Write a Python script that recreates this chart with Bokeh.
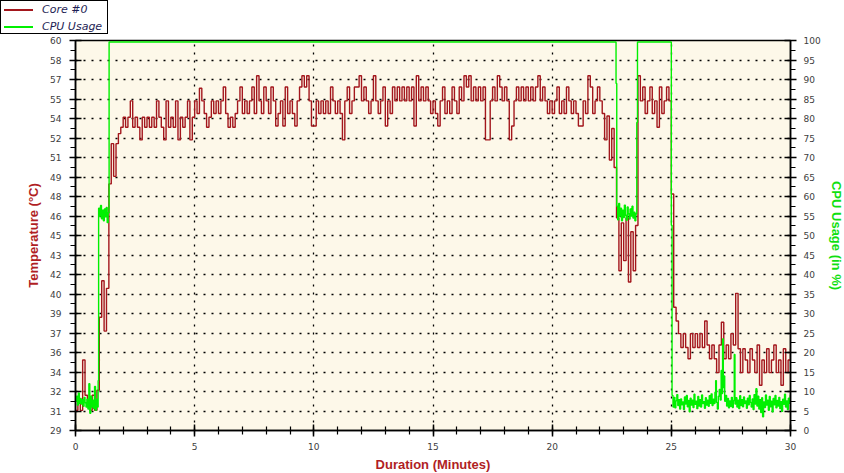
from bokeh.plotting import figure
from bokeh.layouts import column
from bokeh.models import (Range1d, LinearAxis, FixedTicker, CustomJSTickFormatter, Grid, Div)
from bokeh.embed import file_html
from bokeh.resources import INLINE

# ---------------- data ----------------
SAMPLE_STEP_MIN = 0.1  # temperature samples every 0.1 minute, 0.0 .. 30.0

temp_c = [
    30.6, 31.3, 30.6, 34.6, 31.8, 31.2, 30.6, 31.8, 30.6, 32.2,   # 0
    38.0, 40.9, 36.9, 40.3, 48.6, 51.8, 49.2, 51.8, 52.6, 53.1,   # 1
    53.9, 53.1, 53.9, 55.2, 53.1, 53.9, 53.1, 52.1, 53.9, 53.1,   # 2
    53.9, 53.1, 53.9, 53.1, 55.2, 53.9, 53.1, 52.1, 55.2, 53.1,   # 3
    53.9, 53.1, 55.2, 52.1, 53.9, 53.1, 53.9, 55.2, 52.1, 53.9,   # 4
    55.2, 54.2, 56.2, 55.2, 54.2, 53.1, 53.9, 55.2, 54.2, 55.2,   # 5
    54.2, 55.2, 56.3, 54.2, 53.1, 53.9, 53.1, 54.2, 55.2, 56.3,   # 6
    54.2, 55.2, 54.2, 55.2, 56.3, 54.2, 57.2, 55.2, 54.2, 56.3,   # 7
    55.2, 54.2, 56.3, 55.2, 53.2, 54.2, 55.2, 53.2, 56.3, 54.2,   # 8
    55.2, 54.2, 53.2, 55.2, 56.3, 57.2, 56.3, 57.2, 55.2, 53.2,   # 9
    53.2, 55.2, 54.2, 55.2, 54.2, 55.2, 54.2, 56.3, 55.2, 54.2,   # 10
    55.2, 54.2, 52.1, 55.2, 56.3, 54.2, 55.2, 56.3, 56.3, 57.2,   # 11
    55.2, 56.3, 55.2, 54.2, 55.2, 57.2, 55.2, 54.2, 55.2, 56.3,   # 12
    53.2, 55.2, 54.2, 56.3, 55.2, 56.3, 55.2, 56.3, 55.2, 56.3,   # 13
    55.2, 56.3, 53.2, 57.2, 55.2, 56.3, 55.2, 56.3, 55.2, 54.2,   # 14
    55.2, 54.2, 53.2, 55.2, 56.3, 54.2, 55.2, 54.2, 56.3, 55.2,   # 15
    54.2, 56.3, 55.2, 57.2, 56.3, 57.2, 55.2, 56.3, 55.2, 56.3,   # 16
    55.2, 56.3, 52.1, 52.1, 55.2, 56.3, 55.2, 57.2, 56.3, 55.2,   # 17
    56.3, 55.2, 52.1, 53.2, 55.2, 56.3, 55.2, 56.3, 55.2, 56.3,   # 18
    55.2, 56.3, 55.2, 56.3, 57.2, 55.2, 56.3, 55.2, 54.2, 55.2,   # 19
    54.2, 55.2, 56.3, 54.2, 55.2, 54.2, 56.3, 55.2, 54.2, 55.2,   # 20
    54.2, 53.2, 53.2, 55.2, 54.2, 57.2, 56.3, 54.2, 55.2, 56.3,   # 21
    55.2, 54.2, 52.1, 54.0, 50.5, 53.0, 49.9, 45.9, 41.7, 45.5,   # 22
    42.5, 45.9, 40.8, 44.8, 41.7, 45.3, 57.2, 55.2, 56.3, 54.2,   # 23
    55.2, 56.3, 54.2, 55.2, 53.1, 56.3, 54.2, 55.2, 56.3, 55.2,   # 24
    47.8, 38.8, 37.7, 36.7, 35.6, 36.7, 35.6, 34.7, 36.7, 35.6,   # 25
    36.7, 35.6, 36.7, 35.6, 37.7, 35.8, 34.7, 35.8, 34.7, 33.6,   # 26
    35.8, 37.6, 34.7, 35.8, 34.7, 36.7, 35.8, 39.9, 35.5, 33.6,   # 27
    35.5, 34.6, 33.6, 35.5, 34.6, 33.6, 35.8, 32.6, 34.6, 33.6,   # 28
    35.5, 33.6, 34.6, 35.8, 33.6, 34.6, 32.6, 35.5, 33.6, 34.6,   # 29
    35.5,
]
temp_minutes = [round(i * SAMPLE_STEP_MIN, 1) for i in range(len(temp_c))]

cpu_minutes = [
    0.00, 0.04, 0.08, 0.12, 0.16, 0.20, 0.24, 0.28, 0.32, 0.36, 0.40, 0.44,
    0.48, 0.52, 0.56, 0.60, 0.64, 0.68, 0.72, 0.76, 0.80, 0.84, 0.88, 0.92,
    0.95, 0.97, 1.01, 1.05, 1.09, 1.13, 1.17, 1.21, 1.25, 1.29, 1.33, 1.37,
    1.41, 22.68, 22.71, 22.75, 22.79, 22.83, 22.87, 22.91, 22.95, 22.99, 23.03,
    23.07, 23.11, 23.15, 23.19, 23.23, 23.27, 23.31, 23.35, 23.39, 23.43, 23.47,
    23.51, 23.55, 23.58, 25.00, 25.03,
    25.07, 25.11, 25.15, 25.19, 25.23, 25.27, 25.31, 25.35, 25.39, 25.43, 25.47,
    25.51, 25.55, 25.59, 25.63, 25.67, 25.71, 25.75, 25.79, 25.83, 25.87, 25.91,
    25.95, 25.99, 26.03, 26.07, 26.11, 26.15, 26.19, 26.23, 26.27, 26.31, 26.35,
    26.39, 26.43, 26.47, 26.51, 26.55, 26.59, 26.63, 26.67, 26.71, 26.75, 26.79,
    26.83, 26.86, 26.89, 26.93, 26.97, 27.01, 27.05, 27.09, 27.12, 27.15, 27.18,
    27.21, 27.24, 27.28, 27.32, 27.36, 27.40, 27.44, 27.48, 27.52, 27.56, 27.60,
    27.64, 27.67, 27.71, 27.75, 27.79, 27.83, 27.87, 27.91, 27.95, 27.99, 28.03,
    28.07, 28.11, 28.15, 28.19, 28.23, 28.27, 28.31, 28.35, 28.39, 28.43, 28.47,
    28.51, 28.55, 28.59, 28.63, 28.67, 28.71, 28.75, 28.79, 28.83, 28.87, 28.91,
    28.95, 28.99, 29.03, 29.07, 29.11, 29.15, 29.19, 29.23, 29.27, 29.31, 29.35,
    29.39, 29.43, 29.47, 29.51, 29.55, 29.59, 29.63, 29.67, 29.71, 29.75, 29.79,
    29.83, 29.87, 29.91, 29.95, 29.99, 30.00,
]
cpu_percent = [
    7.5, 8.8, 6.5, 9.6, 7.0, 8.2, 6.8, 7.9, 6.2, 8.5, 7.1, 6.0,
    8.0, 5.5, 12.0, 4.4, 8.8, 6.0, 7.8, 5.6, 11.3, 5.2, 8.0, 6.0,
    12.8, 57.0, 55.0, 57.7, 54.3, 56.5, 53.8, 56.8, 54.8, 57.2, 53.3, 55.8,
    99.6, 89.0, 57.5, 54.0, 58.2, 55.0, 57.0, 53.8, 56.5, 54.6, 57.8,
    55.2, 53.9, 57.3, 55.5, 54.2, 56.8, 55.0, 57.5, 54.5, 56.0, 53.8,
    55.5, 79.0, 99.6, 52.6, 9.0,
    6.0, 8.5, 5.8, 7.6, 9.2, 6.4, 7.9, 5.5, 8.1, 6.6, 7.3,
    5.4, 8.6, 6.8, 9.0, 6.1, 7.7, 4.8, 8.3, 6.5, 7.8, 5.9,
    9.3, 6.7, 7.5, 5.6, 8.7, 6.3, 7.9, 6.0, 9.1, 6.9, 7.4,
    5.7, 8.4, 6.5, 7.8, 6.2, 8.9, 7.0, 9.4, 6.4, 8.0, 6.9,
    9.8, 12.8, 7.2, 5.5, 8.8, 10.5, 7.8, 15.4, 9.5, 23.5, 11.0,
    14.0, 7.5, 9.0, 6.3, 8.2, 5.8, 7.6, 6.2, 8.5, 5.9, 7.7,
    19.5, 6.8, 8.4, 6.0, 7.8, 5.6, 8.9, 6.4, 7.9, 6.1, 8.6,
    6.9, 7.6, 5.7, 8.3, 6.6, 9.0, 7.2, 6.0, 8.1, 5.4, 9.2,
    6.8, 10.7, 6.3, 8.8, 5.5, 7.9, 4.6, 8.4, 3.5, 7.3, 5.9,
    9.1, 6.5, 7.8, 5.2, 8.7, 6.1, 7.5, 4.8, 8.2, 6.6, 9.0,
    5.8, 7.7, 6.3, 8.5, 5.6, 7.4, 4.9, 8.0, 6.7, 9.3, 6.0,
    7.6, 5.4, 8.3, 7.0, 9.0, 8.5,
]

series_names = ["Core #0", "CPU Usage"]
temp_tick_labels = ["29", "31", "32", "34", "36", "37", "39", "40", "42", "43", "45",
                    "46", "48", "49", "51", "52", "54", "55", "57", "58", "60"]
cpu_tick_values = [0, 5, 10, 15, 20, 25, 30, 35, 40, 45, 50, 55, 60, 65, 70, 75,
                   80, 85, 90, 95, 100]
minute_tick_values = [0, 5, 10, 15, 20, 25, 30]

TEMP_LO, TEMP_HI = 29.0, 60.0
TEMP_STEP = (TEMP_HI - TEMP_LO) / (len(temp_tick_labels) - 1)

# ---------------- styling ----------------
RED = "#A3161C"
RED_LABEL = "#B01E24"
GREEN = "#00F000"
GREEN_LABEL = "#10E010"
TICK_FONT = "DejaVu Sans"
TITLE_FONT = "Liberation Sans"
series_colors = [RED, GREEN]

# ---- legend box (HTML, real text), shown through the main figure's transparent border ----
rows = "".join(
    f'<div style="height:17px;display:flex;align-items:center;">'
    f'<span style="display:inline-block;width:29px;height:0;border-top:2px solid {c};'
    f'margin:0 9px 0 3px;"></span>{name}</div>'
    for name, c in zip(series_names, series_colors)
)
legend_html = (
    '<div style="width:108px;height:34px;border:1px solid #000;background:#fff;'
    f"font-family:'{TICK_FONT}';font-style:italic;font-size:11px;color:#1E1E55;"
    'line-height:17px;white-space:nowrap;">' + rows + '</div>'
)
legend_div = Div(text=legend_html, width=112, height=38, margin=0)

p = figure(frame_width=715, frame_height=390,
           min_border_left=75, min_border_right=54, min_border_top=40, min_border_bottom=43,
           x_range=Range1d(0, 30), y_range=Range1d(TEMP_LO, TEMP_HI),
           output_backend="svg", toolbar_location=None,
           background_fill_color="#FDF8E9", border_fill_color="white", border_fill_alpha=0.0,
           outline_line_color="black", outline_line_width=1.5,
           styles={"margin-top": "-38px"})
p.yaxis.visible = False
p.xaxis.visible = False
p.extra_y_ranges = {"cpu": Range1d(0, 100)}

temp_ticks = [TEMP_LO + k * TEMP_STEP for k in range(len(temp_tick_labels))]
temp_minor = [TEMP_LO + (k + 0.5) * TEMP_STEP for k in range(len(temp_tick_labels) - 1)]

left = LinearAxis(ticker=FixedTicker(ticks=temp_ticks, minor_ticks=temp_minor),
                  formatter=CustomJSTickFormatter(
                      args=dict(labels=temp_tick_labels, lo=TEMP_LO, step=TEMP_STEP),
                      code="return labels[Math.round((tick - lo) / step)];"),
                  axis_label="Temperature (°C)")
right = LinearAxis(y_range_name="cpu",
                   ticker=FixedTicker(ticks=cpu_tick_values,
                                      minor_ticks=[v + 2.5 for v in cpu_tick_values[:-1]]),
                   axis_label="CPU Usage (in %)")
bottom = LinearAxis(ticker=FixedTicker(ticks=minute_tick_values, minor_ticks=list(range(0, 31))),
                    axis_label="Duration (Minutes)")

for ax in (left, right, bottom):
    ax.axis_line_color = "black"
    ax.axis_line_width = 1.5
    ax.major_tick_line_color = "black"
    ax.major_tick_line_width = 1.5
    ax.minor_tick_line_color = "black"
    ax.minor_tick_line_width = 1.2
    ax.major_tick_in = 6
    ax.major_tick_out = 6
    ax.minor_tick_in = 0
    ax.minor_tick_out = 5
    ax.major_label_text_font = TICK_FONT
    ax.major_label_text_font_size = "9px"
    ax.major_label_text_color = "#404040"
    ax.axis_label_text_font = TITLE_FONT
    ax.axis_label_text_font_style = "bold"
    ax.axis_label_text_font_size = "13px"

left.major_label_standoff = 8
left.axis_label_standoff = 6
left.axis_label_text_color = RED_LABEL
right.major_label_standoff = 7
right.axis_label_standoff = 5
right.axis_label_text_color = GREEN_LABEL
bottom.major_label_standoff = 6
bottom.axis_label_standoff = 4
bottom.axis_label_text_color = RED_LABEL
bottom.minor_tick_in = 4
bottom.minor_tick_out = 4

p.add_layout(left, "left")
p.add_layout(right, "right")
p.add_layout(bottom, "below")

p.xgrid.visible = False
p.ygrid.visible = False
hgrid = Grid(dimension=1, ticker=left.ticker, grid_line_color="black",
             grid_line_dash="2 6", grid_line_width=1.3)
vgrid = Grid(dimension=0, ticker=FixedTicker(ticks=minute_tick_values[1:-1]),
             grid_line_color="black", grid_line_dash="2 6", grid_line_width=1.3)
p.add_layout(hgrid)
p.add_layout(vgrid)

p.step(temp_minutes, temp_c, mode="after", line_color=RED, line_width=1.4)
p.step(cpu_minutes, cpu_percent, mode="after", line_color=GREEN, line_width=1.4,
       y_range_name="cpu")

layout = column(legend_div, p)
open("out.html", "w").write(file_html(layout, INLINE))
